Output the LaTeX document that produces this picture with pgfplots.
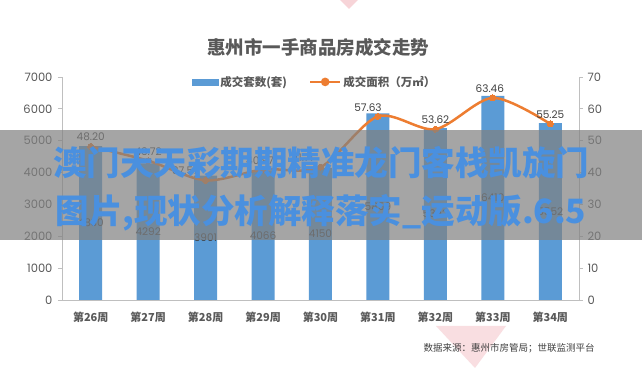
\documentclass[border=0pt]{standalone}
\usepackage{fontspec}
\setmainfont{Noto Sans CJK SC}
\newfontfamily\cjk{Noto Sans CJK SC}
\newfontfamily\numfont{Poppins}
\usepackage{pgfplots}
\usepackage{pgfplotstable}
\pgfplotsset{compat=1.18}
\definecolor{barblue}{HTML}{5B9BD5}
\definecolor{lineorange}{HTML}{ED7D31}
\definecolor{axgray}{HTML}{BFBFBF}
\definecolor{txtgray}{HTML}{595959}
\definecolor{lblgray}{HTML}{404040}
\definecolor{wmblue}{HTML}{4A90DF}
\definecolor{wmpink}{HTML}{F2B8BE}

\pgfplotstableread{
x n area dx
0 4830 48.20 0
1 4292 43.72 0
2 3901 37.57 -20
3 4066 40.97 -3
4 4150 41.71 -18
5 5859 57.63 -10
6 5392 53.62 0
7 6410 63.46 -3
8 5552 55.25 0
}\data

\begin{document}
\begin{tikzpicture}[x=1pt,y=1pt]
\useasboundingbox (0,0) rectangle (642,371);
\fill[white] (0,0) rectangle (642,371);
% pink marks
\fill[wmpink, opacity=0.6] (340,371) -- (358,371) -- (349,362) -- cycle;
\fill[wmpink, opacity=0.45] (436,45) -- (506,45) -- (475,3) -- cycle;
% title
\node[font=\cjk\bfseries\fontsize{18.5}{20}\selectfont, text=txtgray] at (318,324) {惠州市一手商品房成交走势};

\begin{axis}[
  at={(62pt,71pt)}, anchor=south west, scale only axis,
  width=517pt, height=223pt,
  xmin=-0.5, xmax=8.5, ymin=0, ymax=7000,
  axis y line*=left, axis x line*=bottom,
  axis line style={axgray, line width=0.8pt},
  xtick=data,
  xticklabels={第26周,第27周,第28周,第29周,第30周,第31周,第32周,第33周,第34周},
  xticklabel style={font=\cjk\bfseries\fontsize{11}{12}\selectfont, text=txtgray, yshift=-4pt},
  major x tick style={draw=none},
  ytick={0,1000,...,7000},
  yticklabel style={font=\numfont\fontsize{11.5}{12}\selectfont, text=txtgray, xshift=-2pt},
  /pgf/number format/assume math mode=true,
  /pgf/number format/1000 sep={},
  tick align=outside, major tick length=4pt,
  y tick style={axgray, line width=0.8pt},
]
\addplot[ybar, bar width=23pt, fill=barblue, draw=none] table[x=x,y=n]{\data};
\addplot[draw=none, mark=none, point meta=explicit,
  nodes near coords={\pgfmathprintnumber[assume math mode=true,1000 sep={}]{\pgfplotspointmeta}},
  every node near coord/.style={anchor=center, font=\numfont\fontsize{10.5}{12}\selectfont, text=lblgray}]
  table[x=x, y expr=\thisrow{n}/2, meta=n]{\data};
\end{axis}

\begin{axis}[
  at={(62pt,71pt)}, anchor=south west, scale only axis,
  width=517pt, height=223pt,
  xmin=-0.5, xmax=8.5, ymin=0, ymax=70,
  axis y line*=right, axis x line=none,
  axis line style={axgray, line width=0.8pt},
  ytick={0,10,...,70},
  yticklabel style={font=\numfont\fontsize{11.5}{12}\selectfont, text=txtgray, xshift=1pt},
  /pgf/number format/assume math mode=true,
  tick align=outside, major tick length=4pt,
  y tick style={axgray, line width=0.8pt},
  legend columns=2,
  legend style={draw=none, fill=none, at={(0.245,0.978)}, anchor=west,
    font=\cjk\bfseries\fontsize{11.5}{12}\selectfont, text=txtgray,
    /tikz/every even column/.append style={column sep=20pt}},
]
\addlegendimage{legend image code/.code={\fill[barblue] (0pt,-3pt) rectangle (26pt,3pt);}}
\addlegendentry{成交套数(套)}
\addplot[lineorange, line width=2.5pt, smooth, mark=*, mark size=3pt,
  mark options={fill=lineorange, draw=lineorange, line width=0pt},
  point meta=explicit,
  visualization depends on={\thisrow{dx}\as\dx},
  nodes near coords={\pgfmathprintnumber[assume math mode=true,fixed,fixed zerofill,precision=2]{\pgfplotspointmeta}},
  every node near coord/.append style={anchor=south, yshift=2pt, xshift=\dx pt, font=\numfont\fontsize{10.5}{12}\selectfont, text=lblgray},
  legend image code/.code={\draw[lineorange, line width=2.5pt] (0pt,0pt) -- (30pt,0pt); \fill[lineorange] (15pt,0pt) circle (3pt);}]
  table[x=x, y=area, meta=area]{\data};
\addlegendentry{成交面积（万㎡）}
\end{axis}

% source note
\node[font=\cjk\fontsize{9.5}{11}\selectfont, text=lblgray] at (509,23) {数据来源：惠州市房管局；世联监测平台};

% overlay band with text
\fill[gray, opacity=0.7] (0,131) rectangle (642,241);
\node[font=\cjk\bfseries\fontsize{33.5}{36}\selectfont, text=wmblue] at (321,208) {澳门天天彩期期精准龙门客栈凯旋门};
\node[font=\cjk\bfseries\fontsize{33.5}{36}\selectfont, text=wmblue] at (321,158) {图片,现状分析解释落实\_运动版.6.5};
\end{tikzpicture}
\end{document}
